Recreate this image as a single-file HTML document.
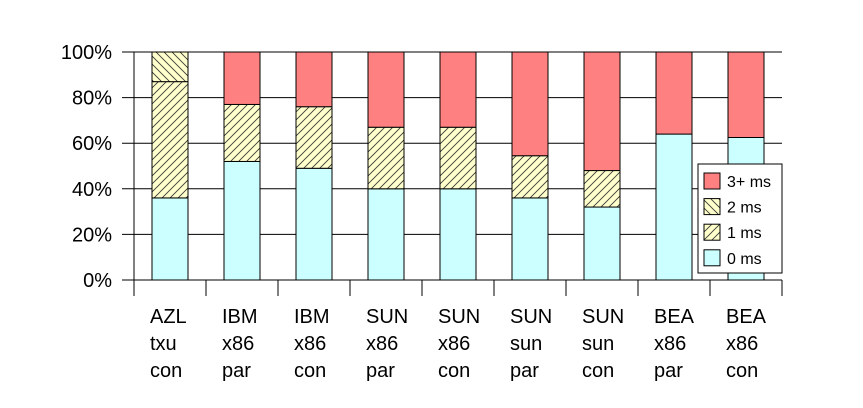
<!DOCTYPE html>
<html><head><meta charset="utf-8"><style>
html,body{margin:0;padding:0;background:#fff;}
svg{display:block;font-family:"Liberation Sans","DejaVu Sans",sans-serif;}
</style></head><body>
<svg id="chart" width="863" height="408" viewBox="0 0 863 408">
<defs>
<pattern id="hatch1" patternUnits="userSpaceOnUse" width="8" height="8">
<rect width="8" height="8" fill="#FFFFCC"/><path d="M-2,2 L2,-2 M0,8 L8,0 M6,10 L10,6" stroke="#333" stroke-width="0.8"/>
</pattern>
<pattern id="hatch2" patternUnits="userSpaceOnUse" width="8" height="8">
<rect width="8" height="8" fill="#FFFFCC"/><path d="M-2,6 L2,10 M0,0 L8,8 M6,-2 L10,2" stroke="#333" stroke-width="0.8"/>
</pattern>
</defs>
<g id="grid"></g><g id="bars"></g><g id="axes"></g><g id="legend"></g>
</svg>
<script>
const categories = [["AZL","txu","con"],["IBM","x86","par"],["IBM","x86","con"],["SUN","x86","par"],["SUN","x86","con"],["SUN","sun","par"],["SUN","sun","con"],["BEA","x86","par"],["BEA","x86","con"]];
const ms0 = [36, 52, 49, 40, 40, 36, 32, 64, 62.5];
const ms1 = [51, 25, 27, 27, 27, 18.5, 16, 0, 0];
const ms2 = [13, 0, 0, 0, 0, 0, 0, 0, 0];
const ms3 = [0, 23, 24, 33, 33, 45.5, 52, 36, 37.5];
const yTicks = [0, 20, 40, 60, 80, 100];
const seriesNames = ["3+ ms","2 ms","1 ms","0 ms"];

const NS="http://www.w3.org/2000/svg";
const X0=134, X1=782, Y0=280, Y1=52;
const cw=(X1-X0)/categories.length;
const y=v=>Y0-(v/100)*(Y0-Y1);
const xc=i=>X0+cw*(i+0.5);
function mk(tag,attrs,parent,text){const e=document.createElementNS(NS,tag);for(const k in attrs)e.setAttribute(k,attrs[k]);if(text!==undefined)e.textContent=text;parent.appendChild(e);return e;}
const grid=document.getElementById('grid'),bars=document.getElementById('bars'),axes=document.getElementById('axes'),legend=document.getElementById('legend');
yTicks.forEach(t=>{
  const l=mk('line',{x1:122,x2:X1,y1:y(t),y2:y(t),stroke:'#000','stroke-width':1},grid);
  
  
  const tx=mk('text',{x:112,y:y(t)+7,'text-anchor':'end','font-size':20,fill:'#000'},axes,t+'%');
  
  
});
const ax=mk('line',{x1:X0,x2:X0,y1:Y1,y2:Y0+16,stroke:'#000','stroke-width':1},axes);


const fills=['#CCFFFF','url(#hatch1)','url(#hatch2)','#FF8080'];
const series=[ms0,ms1,ms2,ms3];
const sn=['0ms','1ms','2ms','3plus-ms'];
categories.forEach((c,i)=>{
  const tk=mk('line',{x1:X0+cw*(i+1),x2:X0+cw*(i+1),y1:Y0,y2:Y0+16,stroke:'#000','stroke-width':1},axes);
  
  
  let acc=0;
  series.forEach((s,k)=>{
    const v=s[i]; if(v<=0) return;
    const r=mk('rect',{x:xc(i)-18,y:y(acc+v),width:36,height:y(acc)-y(acc+v),fill:fills[k],stroke:'#000','stroke-width':1},bars);
    
    
    acc+=v;
  });
  const t=mk('text',{x:X0+cw*i+16,'font-size':20,fill:'#000'},axes);
  
  
  c.forEach((w,j)=>mk('tspan',{x:X0+cw*i+16,y:323+j*27},t,w));
});
const lb=mk('rect',{x:698,y:164,width:84,height:109,fill:'#fff',stroke:'#000','stroke-width':1},legend);


const lf=['#FF8080','url(#hatch2)','url(#hatch1)','#CCFFFF'];
seriesNames.forEach((n,k)=>{
  const cy=181+k*25.6;
  const s=mk('rect',{x:704,y:cy-8,width:16,height:16,fill:lf[k],stroke:'#000','stroke-width':1},legend);
  
  
  const t=mk('text',{x:727,y:cy+6,'font-size':16,fill:'#000'},legend,n);
  
  
});
</script>
</body></html>
